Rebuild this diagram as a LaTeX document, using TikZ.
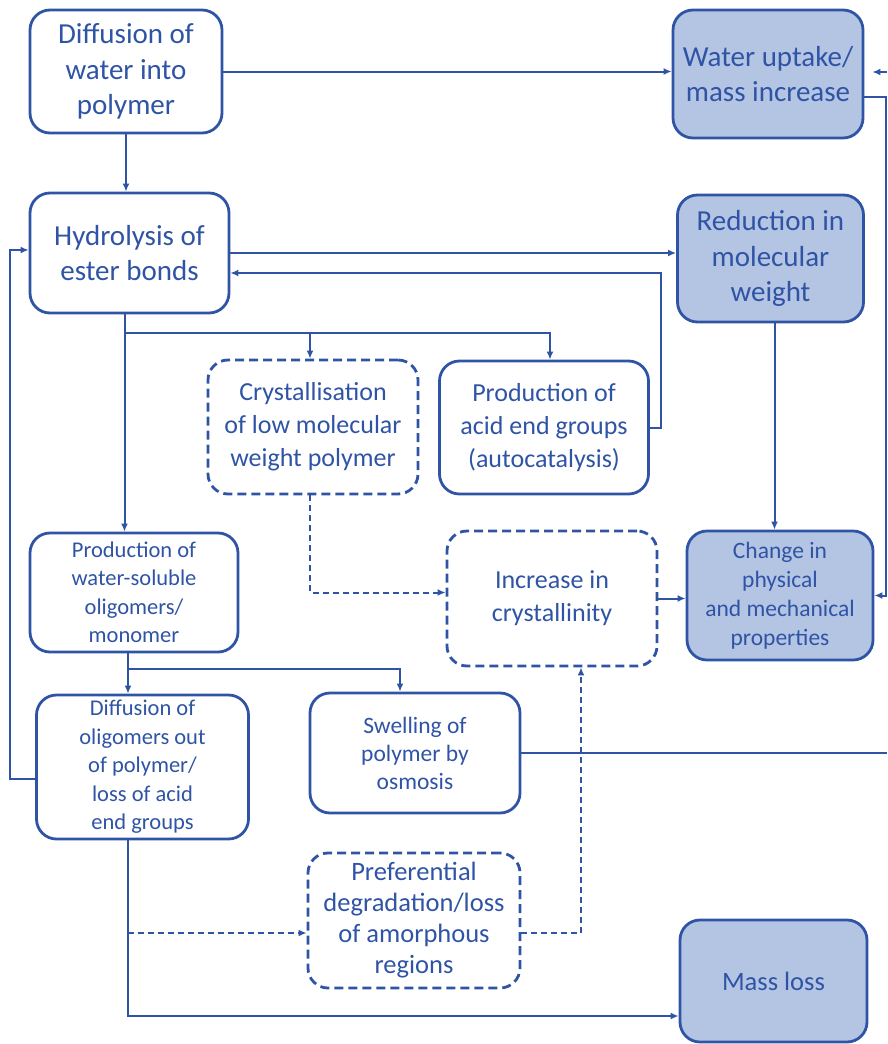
\documentclass[tikz,border=0pt]{standalone}
\usepackage{fontspec}
\setmainfont{Carlito}
\usetikzlibrary{arrows.meta,calc}
\definecolor{navy}{HTML}{2F54A5}
\definecolor{boxfill}{HTML}{B4C4E3}
\begin{document}
\begin{tikzpicture}[x=1pt,y=-1pt,
  box/.style={draw=navy, line width=2.8pt, rounded corners=20pt, text=navy,
    align=center, inner sep=0pt},
  filled/.style={box, fill=boxfill},
  dbox/.style={box, dash pattern=on 9pt off 5pt},
  big/.style={font=\fontsize{29}{35.5}\selectfont},
  mid/.style={font=\fontsize{26}{33}\selectfont},
  small/.style={font=\fontsize{22.5}{28.5}\selectfont},
  conn/.style={draw=navy, line width=2pt, -{Latex[length=8pt,width=7pt]}},
  wire/.style={draw=navy, line width=2pt},
  dconn/.style={conn, dash pattern=on 6pt off 4pt}]
\useasboundingbox (0,0) rectangle (887,1044);

% process boxes
\node[box, big, minimum width=192pt, minimum height=123pt] (dw) at (126,71.5)
  {Diffusion of\\water into\\polymer};
\node[filled, big, minimum width=190pt, minimum height=128pt] (wu) at (768,74)
  {Water uptake/\\mass increase};
\node[box, big, minimum width=199pt, minimum height=120pt] (hy) at (129.5,253)
  {Hydrolysis of\\ester bonds};
\node[filled, big, minimum width=186pt, minimum height=127pt] (rm) at (770.5,258.5)
  {Reduction in\\molecular\\weight};
\node[dbox, mid, minimum width=210pt, minimum height=134pt] (cr) at (313,427)
  {Crystallisation\\of low molecular\\weight polymer};
\node[box, mid, minimum width=209pt, minimum height=133pt] (pa) at (544,427.5)
  {Production of\\acid end groups\\(autocatalysis)};
\node[box, small, minimum width=208pt, minimum height=119pt] (po) at (134,592.5)
  {Production of\\water-soluble\\oligomers/\\monomer};
\node[dbox, mid, minimum width=210pt, minimum height=135pt] (ic) at (552,598.5)
  {Increase in\\crystallinity};
\node[filled, font=\fontsize{23.5}{29}\selectfont, minimum width=186pt, minimum height=129pt] (ch) at (780,595.5)
  {Change in\\physical\\and mechanical\\properties};
\node[box, small, minimum width=212pt, minimum height=144pt] (do) at (142.5,767)
  {Diffusion of\\oligomers out\\of polymer/\\loss of acid\\end groups};
\node[box, font=\fontsize{23.5}{28}\selectfont, minimum width=210pt, minimum height=120pt] (sw) at (415,753)
  {Swelling of\\polymer by\\osmosis};
\node[dbox, font=\fontsize{26.5}{31}\selectfont, minimum width=212pt, minimum height=135pt] (pd) at (414,920.5)
  {Preferential\\degradation/loss\\of amorphous\\regions};
\node[filled, font=\fontsize{26.5}{30}\selectfont, minimum width=187pt, minimum height=122pt] (ml) at (773.5,981)
  {Mass loss};

% helper points on the right margin and on the vertical trunks
\coordinate (inW) at (887,72);
\coordinate (rail) at (886,0);
\coordinate (hyB) at ($(hy.south)+(-5,0)$);
\coordinate (poB) at ($(po.south)+(-6,0)$);
\coordinate (doB) at ($(do.south)+(-15,0)$);
\coordinate (rmB) at ($(rm.south)+(4,0)$);
\coordinate (crB) at ($(cr.south)+(-3,0)$);

% water paths
\draw[conn] (dw.east) -- (dw.east -| wu.west);
\draw[conn] (dw.south) -- (dw.south |- hy.north);
\draw[conn, shorten >=8pt] (inW) -- (inW -| wu.east);
\draw[conn] ($(wu.east)+(0,23)$) -| (rail |- ch.east) -- (ch.east);

% hydrolysis and its products
\draw[conn] (hy.east) -- (hy.east -| rm.west);
\draw[conn] (pa.east) -- ++(11,0) |- ($(hy.east)+(0,20)$);
\draw[conn] (hyB) -- (hyB |- po.north);
\draw[conn] (hyB |- 0,333) -| ($(cr.north)+(-3,0)$);
\draw[conn] (hyB |- 0,333) -| ($(pa.north)+(6,0)$);
\draw[dconn] (crB) |- ($(ic.west)+(0,-6)$);
\draw[conn] (ic.east) -- (ic.east -| ch.west);
\draw[conn] (rmB) -- (rmB |- ch.north);

% oligomer paths
\draw[conn] (poB) -- (poB |- do.north);
\draw[conn] (poB |- 0,669) -| ($(sw.north)+(-15,0)$);
\draw[wire] (sw.east) -- (sw.east -| inW);
\draw[conn] ($(do.west)+(0,12)$) -- ++(-25,0) |- ($(hy.west)+(0,-3)$);
\draw[conn] (doB) |- ($(ml.west)+(0,35)$);
\draw[dconn] (doB |- 0,933) -- ($(pd.west)+(0,12.5)$);
\draw[dconn] ($(pd.east)+(0,12.5)$) -| ($(ic.south)+(29,0)$);
\end{tikzpicture}
\end{document}
